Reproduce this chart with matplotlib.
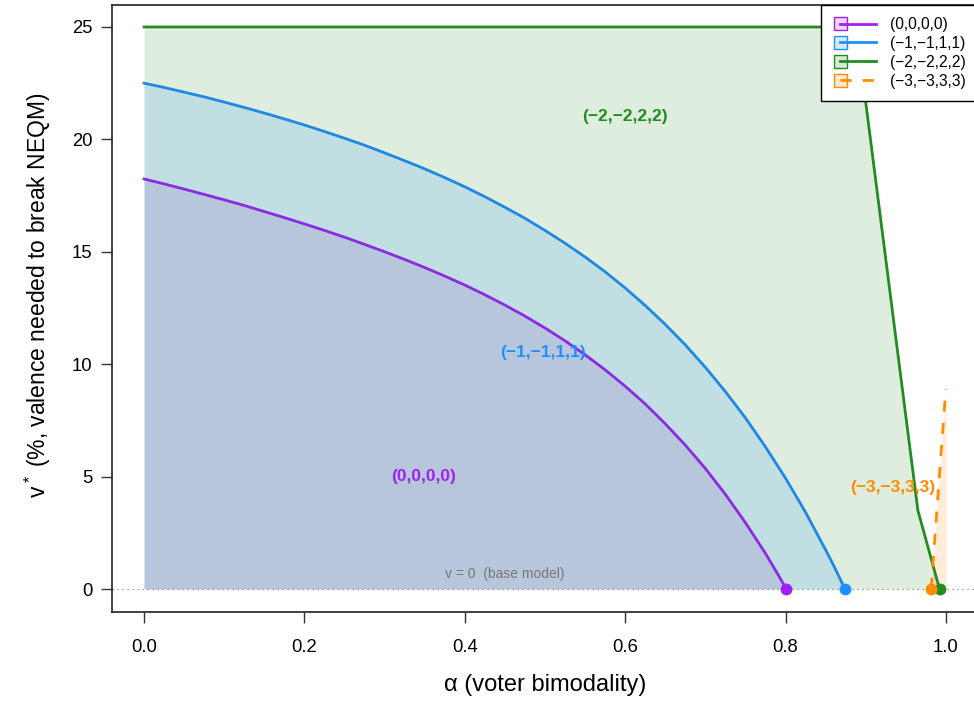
import matplotlib
matplotlib.use("Agg")
import matplotlib.pyplot as plt
from matplotlib.legend_handler import HandlerBase
from matplotlib.patches import Rectangle, Patch
from matplotlib.lines import Line2D

plt.rcParams["font.family"] = ["Liberation Sans", "DejaVu Sans"]
plt.rcParams["mathtext.fontset"] = "custom"
plt.rcParams["mathtext.rm"] = "Liberation Sans"
plt.rcParams["mathtext.it"] = "Liberation Sans"

# --- critical valence curves v*(alpha), one per payoff profile ---
labels = ["(0,0,0,0)", "(\u22121,\u22121,1,1)", "(\u22122,\u22122,2,2)", "(\u22123,\u22123,3,3)"]

alpha_0 = [0.0, 0.025, 0.05, 0.075, 0.1, 0.125, 0.15, 0.175, 0.2, 0.225, 0.25,
           0.275, 0.3, 0.325, 0.35, 0.375, 0.4, 0.425, 0.45, 0.475, 0.5,
           0.525, 0.55, 0.575, 0.6, 0.625, 0.65, 0.675, 0.7, 0.725, 0.75,
           0.775, 0.79, 0.801]
v_0 = [18.24, 18.02, 17.79, 17.55, 17.31, 17.06, 16.79, 16.52, 16.24, 15.95, 15.65,
       15.33, 15.00, 14.66, 14.30, 13.92, 13.52, 13.09, 12.63, 12.14, 11.61,
       11.04, 10.42, 9.75, 9.02, 8.23, 7.35, 6.40, 5.36, 4.21, 2.95,
       1.58, 0.68, 0.0]

alpha_1 = [0.0, 0.025, 0.05, 0.075, 0.1, 0.125, 0.15, 0.175, 0.2, 0.225, 0.25,
           0.275, 0.3, 0.325, 0.35, 0.375, 0.4, 0.425, 0.45, 0.475, 0.5,
           0.525, 0.55, 0.575, 0.6, 0.625, 0.65, 0.675, 0.7, 0.725, 0.75,
           0.775, 0.8, 0.825, 0.85, 0.862, 0.874]
v_1 = [22.5, 22.31, 22.10, 21.89, 21.66, 21.42, 21.17, 20.91, 20.64, 20.35, 20.05,
       19.74, 19.40, 19.05, 18.69, 18.30, 17.89, 17.45, 16.98, 16.49, 15.95,
       15.38, 14.77, 14.11, 13.39, 12.61, 11.77, 10.86, 9.86, 8.78, 7.61,
       6.32, 4.93, 3.41, 1.74, 0.90, 0.0]

alpha_2 = [0.0, 0.888, 0.965, 0.992]
v_2 = [25.0, 25.0, 3.5, 0.0]

alpha_3 = [0.9815, 0.993, 1.0]
v_3 = [0.0, 5.6, 8.9]

curves = [(alpha_0, v_0), (alpha_1, v_1), (alpha_2, v_2), (alpha_3, v_3)]

line_cols = ["#8A2BE2", "#1E88E5", "#228B22", "#FF8C00"]
key_cols = ["#A020F0", "#1E90FF", "#228B22", "#FF8C00"]
fill_cols = ["#8B38BA", "#1E90FF", "#228B22", "#FF8C00"]
fill_a = 0.15

fig = plt.figure(figsize=(9.74, 7.02), dpi=100)
ax = fig.add_axes([112 / 974, 90.5 / 702, 866 / 974, 607 / 702])
ax.set_xlim(-0.04, 1.04)
ax.set_ylim(-1, 26)

# shaded regions, widest first so the inner ones stack on top
for i in [2, 1, 0, 3]:
    a, v = curves[i]
    ax.fill_between(a, 0, v, color=fill_cols[i], alpha=fill_a, lw=0)

ax.axhline(0, color="#888888", lw=0.9, ls=(0, (1, 3)), zorder=1)

for i, (a, v) in enumerate(curves):
    if i == 3:
        ax.plot(a, v, color=line_cols[i], lw=2.0, dashes=(4, 4), zorder=3)
    else:
        ax.plot(a, v, color=line_cols[i], lw=2.0, zorder=3,
                solid_joinstyle="round")

# break points on the v = 0 axis
for i, (a, v) in enumerate(curves):
    ax.plot(a[0] if i == 3 else a[-1], 0, "o", color=key_cols[i], ms=8.5,
            mec="none", zorder=4, clip_on=False)

ax.text(0.349, 5.0, labels[0], color="#A020F0", fontsize=12.5, fontweight="bold",
        ha="center", va="center")
ax.text(0.498, 10.5, labels[1], color="#1E90FF", fontsize=12.5, fontweight="bold",
        ha="center", va="center")
ax.text(0.600, 21.0, labels[2], color="#228B22", fontsize=12.5, fontweight="bold",
        ha="center", va="center")
ax.text(0.933, 4.5, labels[3], color="#FF8C00", fontsize=12.5, fontweight="bold",
        ha="center", va="center")
ax.text(0.45, 0.67, "v = 0  (base model)", color="#777777", fontsize=10,
        ha="center", va="center")

ax.set_xticks([0, 0.2, 0.4, 0.6, 0.8, 1.0])
ax.set_xticklabels(["0.0", "0.2", "0.4", "0.6", "0.8", "1.0"])
ax.set_yticks([0, 5, 10, 15, 20, 25])
ax.tick_params(axis="both", labelsize=13.3, length=8, width=1, color="#333333")
ax.tick_params(axis="x", pad=12)
ax.tick_params(axis="y", pad=6)
for s in ax.spines.values():
    s.set_linewidth(1.2)
    s.set_color("#222222")

ax.set_xlabel("\u03b1 (voter bimodality)", fontsize=17, va="center")
ax.xaxis.set_label_coords(0.5, -0.121)
ax.set_ylabel(r"$v^*$ (%, valence needed to break NEQM)", fontsize=16.5, va="center")
ax.yaxis.set_label_coords(-0.0855, 0.521)


class BoxLineHandler(HandlerBase):
    def create_artists(self, legend, orig_handle, xdescent, ydescent,
                       width, height, fontsize, trans):
        patch, line = orig_handle
        s = 0.85 * fontsize
        x0 = -xdescent
        y0 = -ydescent + height / 2 - s / 2
        ln = Line2D([x0 + s / 2, x0 + width], [y0 + s / 2] * 2)
        ln.update_from(line)
        ln.set_transform(trans)
        rect = Rectangle((x0, y0), s, s, facecolor=patch.get_facecolor(),
                         edgecolor=patch.get_edgecolor(), lw=1.0, transform=trans)
        return [ln, rect]


handles = []
for i in range(4):
    p = Patch(facecolor=matplotlib.colors.to_rgba(key_cols[i], 0.18),
              edgecolor=key_cols[i])
    if i == 3:
        l = Line2D([], [], color=key_cols[i], lw=2.0, dashes=(4, 4))
    else:
        l = Line2D([], [], color=key_cols[i], lw=2.0)
    handles.append((p, l))

leg = ax.legend(handles, labels, handler_map={tuple: BoxLineHandler()},
                loc="upper right", borderaxespad=0, fontsize=11.2,
                handlelength=2.7, handletextpad=0.9, labelspacing=0.25,
                borderpad=0.8, fancybox=False, framealpha=1, edgecolor="black")
leg.get_frame().set_linewidth(1.0)

fig.savefig("out.png", dpi=100)
